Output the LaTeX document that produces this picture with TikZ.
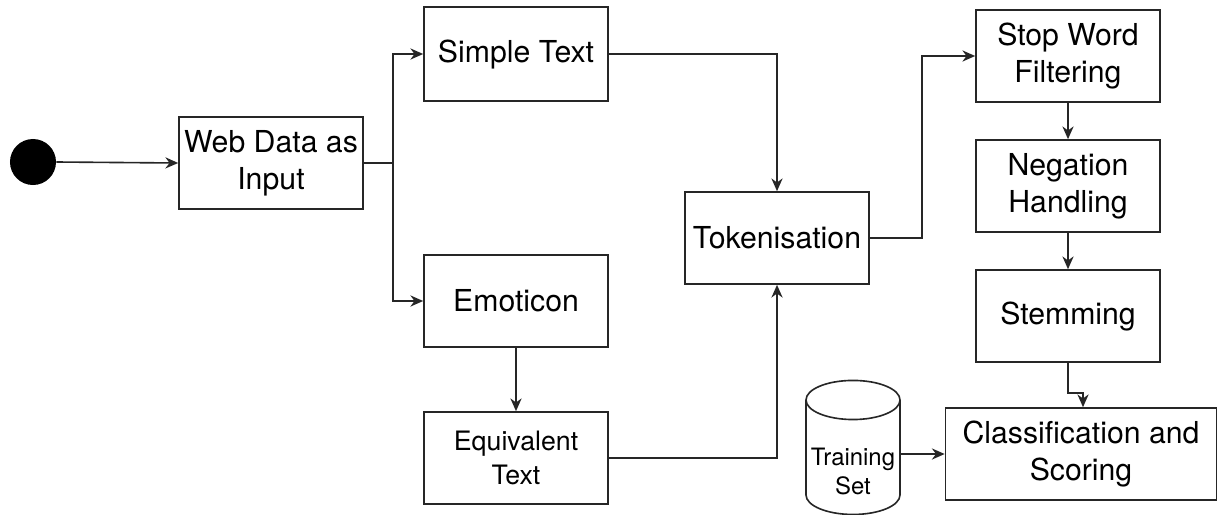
\documentclass[tikz,border=0pt]{standalone}
\usepackage{fontspec}
\setmainfont{TeX Gyre Heros}
\usetikzlibrary{arrows.meta, positioning, shapes.geometric}

\begin{document}
\begin{tikzpicture}[
    x=0.025cm, y=-0.025cm,
    >=Stealth,
    block/.style={rectangle, draw=black!85, line width=1.15pt, fill=white,
                  minimum width=4.6cm, minimum height=2.3cm, align=center,
                  inner sep=1pt, font=\fontsize{21.5}{26}\selectfont},
    arr/.style={-{Stealth[length=3.2mm, width=2.8mm]}, line width=1.15pt, black!85},
    link/.style={line width=1.15pt, black!85},
]
    \useasboundingbox (0,0) rectangle (1221,514);

    % Input side
    \node[circle, fill=black, minimum size=1.15cm, inner sep=0pt] (start) at (33,162) {};
    \node[block] (web) at (271,163) {Web Data as\\Input};
    \coordinate (split) at (393,163);

    \node[block, minimum height=2.35cm] (simple) at (516,54) {Simple Text};
    \node[block] (emoticon) at (516,301) {Emoticon};
    \node[block, font=\fontsize{19}{24}\selectfont] (equiv) at (516,458) {Equivalent\\Text};

    \node[block] (token) at (777,238) {Tokenisation};

    % Right column
    \node[block] (stop) at (1068,56) {Stop Word\\Filtering};
    \node[block] (negation) at (1068,186) {Negation\\Handling};
    \node[block] (stem) at (1068,316) {Stemming};
    \node[block, minimum width=6.775cm] (classify) at (1081,454) {Classification and\\Scoring};

    \node[cylinder, shape border rotate=90, draw=black!85, line width=1.15pt, aspect=0.45,
          minimum width=2.35cm, minimum height=3.35cm, inner sep=1pt,
          font=\fontsize{17}{20.5}\selectfont] (train) at (853,460)
          {\raisebox{-0.5cm}[0pt][0pt]{\begin{tabular}{@{}c@{}}Training\\Set\end{tabular}}};

    % Connectors
    \draw[arr] (start.east) -- (web.west);
    \draw[link] (web.east) -- (split);
    \draw[arr] (split) |- (simple.west);
    \draw[arr] (split) |- (emoticon.west);
    \draw[arr] (emoticon.south) -- (equiv.north);
    \draw[arr] (simple.east) -| (token.north);
    \draw[arr] (equiv.east) -| (token.south);
    \draw[arr] (token.east) -- ++(52,0) |- (stop.west);
    \draw[arr] (stop.south) -- (negation.north);
    \draw[arr] (negation.south) -- (stem.north);
    \draw[arr] (stem.south) -- ++(0,30) -| ([xshift=0.05cm]classify.north);
    \draw[arr] (train.east |- classify.west) -- (classify.west);
\end{tikzpicture}
\end{document}
